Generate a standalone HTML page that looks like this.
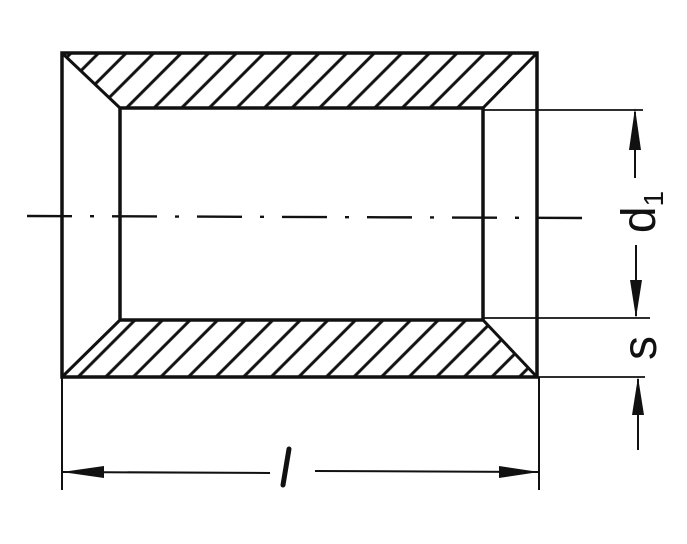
<!DOCTYPE html>
<html><head><style>
html,body{margin:0;padding:0;background:#fff;width:687px;height:544px;overflow:hidden}
svg{display:block}
text{font-family:"Liberation Sans",sans-serif;fill:#111}
</style></head><body>
<svg width="687" height="544" viewBox="0 0 687 544" xmlns="http://www.w3.org/2000/svg">
<defs>
<clipPath id="ct"><polygon points="62,53 537,53 483,108 120,108"/></clipPath>
<clipPath id="cb"><polygon points="120,320 483,320 537,377 62,377"/></clipPath>
<pattern id="h" patternUnits="userSpaceOnUse" width="19.5" height="19.5" patternTransform="rotate(45)">
<line x1="9.75" y1="0" x2="9.75" y2="19.5" stroke="#111" stroke-width="3"/>
</pattern>
</defs>
<g stroke="#111" fill="none">
<rect x="62" y="53" width="475" height="55" fill="url(#h)" clip-path="url(#ct)" stroke="none"/>
<rect x="62" y="320" width="475" height="57" fill="url(#h)" clip-path="url(#cb)" stroke="none"/>
<rect x="62" y="53" width="475" height="324" stroke-width="3.5"/>
<rect x="120" y="108" width="363" height="212" stroke-width="3.5"/>
<line x1="62" y1="53" x2="120" y2="108" stroke-width="3"/>
<line x1="537" y1="53" x2="483" y2="108" stroke-width="3"/>
<line x1="62" y1="377" x2="120" y2="320" stroke-width="3"/>
<line x1="537" y1="377" x2="483" y2="320" stroke-width="3"/>
<line x1="27" y1="216" x2="585" y2="218" stroke-width="2.4" stroke-dasharray="45,18,4,18"/>
<line x1="483" y1="110" x2="643" y2="110" stroke-width="1.8"/>
<line x1="483" y1="318" x2="650" y2="318" stroke-width="1.8"/>
<line x1="537" y1="377" x2="645" y2="377" stroke-width="1.8"/>
<line x1="635" y1="112" x2="635" y2="178" stroke-width="2"/>
<line x1="636" y1="245" x2="636" y2="316" stroke-width="2"/>
<line x1="638" y1="379" x2="638" y2="450" stroke-width="2"/>
<line x1="62" y1="377" x2="62" y2="490" stroke-width="2"/>
<line x1="539" y1="377" x2="539" y2="490" stroke-width="2"/>
<line x1="62" y1="472" x2="270" y2="473" stroke-width="2"/>
<line x1="315" y1="471" x2="539" y2="472" stroke-width="2"/>
</g>
<g fill="#111">
<polygon points="635,108 629,150 641,150"/>
<polygon points="636,318 630,280 642,280"/>
<polygon points="638,377 632,415 644,415"/>
<polygon points="62,472 104,466 104,478"/>
<polygon points="539,472 499,466 499,478"/>
</g>
<text transform="translate(655,212) rotate(-90)" text-anchor="middle" font-size="48">d<tspan font-size="28" dy="8">1</tspan></text>
<text transform="translate(656,348) rotate(-90)" text-anchor="middle" font-size="48">s</text>
<line x1="289" y1="449" x2="283" y2="485" stroke="#111" stroke-width="5" stroke-linecap="round"/>
</svg>
</body></html>
